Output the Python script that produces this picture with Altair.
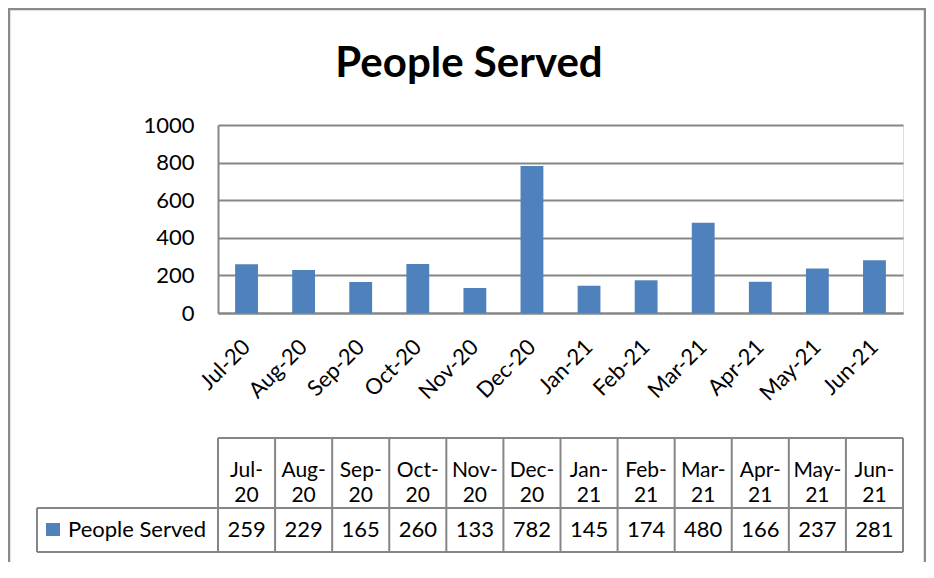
import altair as alt
import pandas as pd

months = ["Jul-20", "Aug-20", "Sep-20", "Oct-20", "Nov-20", "Dec-20",
          "Jan-21", "Feb-21", "Mar-21", "Apr-21", "May-21", "Jun-21"]
served = [259, 229, 165, 260, 133, 782, 145, 174, 480, 166, 237, 281]
y_ticks = [0, 200, 400, 600, 800, 1000]
series_name = "People Served"
chart_title = "People Served"

df = pd.DataFrame({"month": months, "served": served})
df["header"] = [m.replace("-", "-\n") for m in months]
one = pd.DataFrame({"k": [0]})

FONT = "Lato"
GRAY = "#868686"
BLUE = "#4F81BD"
FS = 22

xscale = alt.Scale(domain=months, paddingInner=0, paddingOuter=0)
xaxis = alt.Axis(title=None, labelAngle=-45, labelAlign="right", labelBaseline="middle",
                 ticks=False, domainColor=GRAY, domainWidth=2, labelFontSize=FS,
                 labelFont=FONT, labelColor="black", labelPadding=30, grid=False)
x_c = alt.X("month:N", scale=xscale, sort=months, axis=xaxis)
x_s = alt.X("month:N", scale=xscale, sort=months, axis=xaxis, bandPosition=0)

bars = alt.Chart(df).mark_bar(color=BLUE, width=alt.RelativeBandSize(0.4)).encode(
    x=x_c,
    y=alt.Y("served:Q", scale=alt.Scale(domain=[0, 1000]),
            axis=alt.Axis(values=y_ticks, format="d", title=None, grid=True, gridColor=GRAY,
                          gridWidth=2, domainColor=GRAY, domainWidth=2, ticks=False,
                          labelFontSize=FS, labelFont=FONT, labelColor="black",
                          labelPadding=24)),
)

txt = dict(font=FONT, color="black", baseline="middle")
hdr = alt.Chart(df).mark_text(lineBreak="\n", lineHeight=25, fontSize=21, **txt).encode(
    x=x_c, y=alt.value(346), text="header:N")
vals = alt.Chart(df).mark_text(fontSize=FS, **txt).encode(
    x=x_c, y=alt.value(405), text="served:Q")

rule = dict(color=GRAY, strokeWidth=2)
vlines = alt.Chart(df).mark_rule(**rule).encode(x=x_s, y=alt.value(313), y2=alt.value(427))
vright = alt.Chart(one).mark_rule(**rule).encode(x=alt.value(685), y=alt.value(313), y2=alt.value(427))
vleft = alt.Chart(one).mark_rule(**rule).encode(x=alt.value(-181), y=alt.value(383), y2=alt.value(427))
htop = alt.Chart(one).mark_rule(**rule).encode(x=alt.value(0), x2=alt.value(685), y=alt.value(313))
hmid = alt.Chart(one).mark_rule(**rule).encode(x=alt.value(-181), x2=alt.value(685), y=alt.value(383))
hbot = alt.Chart(one).mark_rule(**rule).encode(x=alt.value(-181), x2=alt.value(685), y=alt.value(427))

swatch = alt.Chart(one).mark_rect(color=BLUE).encode(
    x=alt.value(-172), x2=alt.value(-158), y=alt.value(398), y2=alt.value(411))
legend_txt = alt.Chart(one).mark_text(align="left", text=series_name, fontSize=FS, **txt).encode(
    x=alt.value(-150), y=alt.value(405))

title_txt = alt.Chart(one).mark_text(
    align="center", baseline="alphabetic", text=chart_title, font=FONT, fontSize=42,
    fontWeight="bold", color="black").encode(x=alt.value(251), y=alt.value(-48))

frame = alt.Chart(one).mark_rect(fillOpacity=0, stroke="#8a8a8a", strokeWidth=2.5).encode(
    x=alt.value(-209), x2=alt.value(707), y=alt.value(-116), y2=alt.value(470))

chart = alt.layer(
    frame, title_txt, bars, vlines, vright, vleft, htop, hmid, hbot, hdr, vals, swatch,
    legend_txt
).properties(
    width=685, height=188,
    autosize=alt.AutoSizeParams(type="none"),
    padding={"left": 210, "top": 117, "right": 23, "bottom": 249},
).configure_view(strokeWidth=0).configure(background="white")

chart.save("out.html", embed_options={"renderer": "svg", "actions": False})
